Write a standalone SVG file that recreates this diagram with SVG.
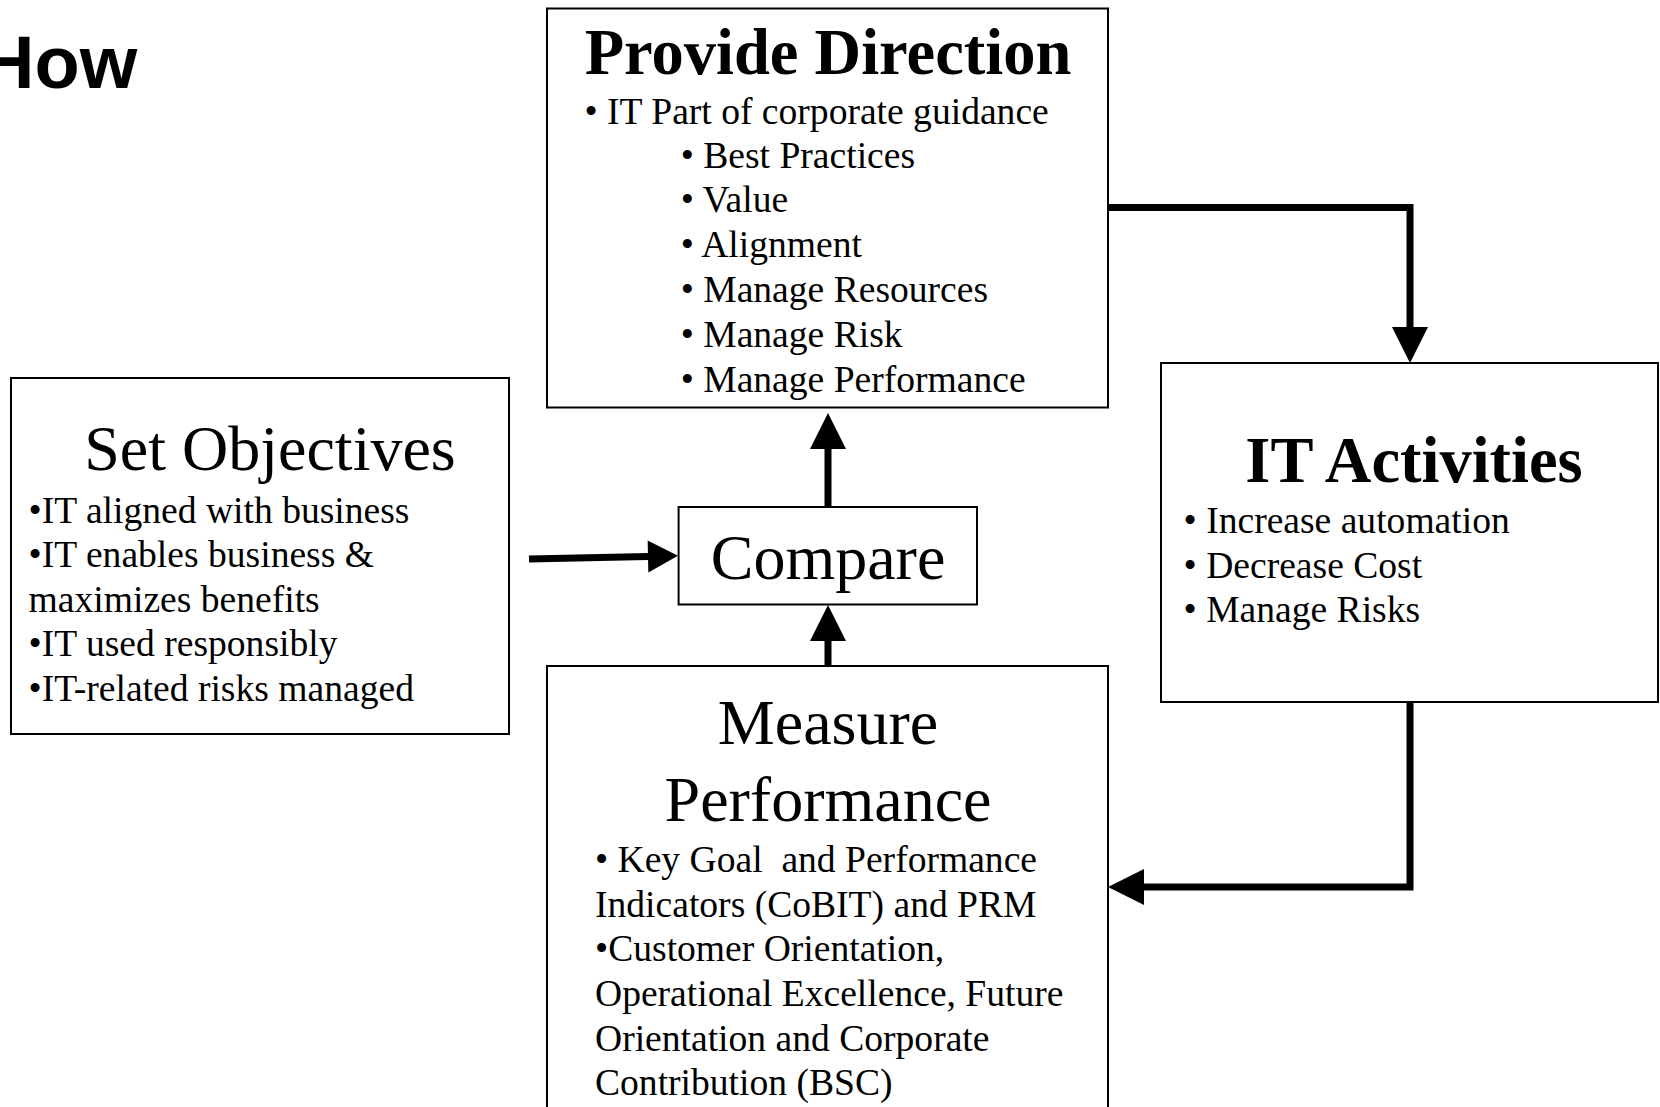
<svg xmlns="http://www.w3.org/2000/svg" width="1660" height="1107" viewBox="0 0 1660 1107">
<style>
.box{fill:#fff;stroke:#000;stroke-width:2}
.t{font-family:"Liberation Serif","Times New Roman",serif;fill:#000}
.h{font-size:64px;text-anchor:middle}
.hb{font-size:64.5px;font-weight:bold;text-anchor:middle}
.b{font-size:37.6px;white-space:pre}
.conn{fill:none;stroke:#000;stroke-width:7;stroke-linejoin:miter}
</style>
<defs>
<marker id="ah" markerUnits="userSpaceOnUse" markerWidth="37" markerHeight="37" refX="0" refY="18" orient="auto" overflow="visible">
<path d="M0,0 L36,18 L0,36 Z" fill="#000"/>
</marker>
<marker id="ahs" markerUnits="userSpaceOnUse" markerWidth="31" markerHeight="33" refX="0" refY="16" orient="auto" overflow="visible">
<path d="M0,0 L30,16 L0,32 Z" fill="#000"/>
</marker>
</defs>
<rect width="1660" height="1107" fill="#fff"/>
<text x="-19" y="88" style="font-family:'Liberation Sans',Arial,sans-serif;font-size:74px;font-weight:bold">How</text>

<g id="connectors">
<path class="conn" d="M1108,207.5 H1410 V327" marker-end="url(#ah)"/>
<path class="conn" d="M1410,702 V887 H1144" marker-end="url(#ah)"/>
<path class="conn" d="M529,559 L648,556.5" marker-end="url(#ahs)"/>
<path class="conn" d="M828,507 V449" marker-end="url(#ah)"/>
<path class="conn" d="M828,668 V641" marker-end="url(#ah)"/>
</g>

<g id="provide-direction">
<rect class="box" x="547" y="8.5" width="561" height="399"/>
<text class="t hb" x="828" y="74">Provide Direction</text>
<text class="t b" x="584.5" y="124">• IT Part of corporate guidance</text>
<text class="t b" x="680.7" y="167.5">• Best Practices</text>
<text class="t b" x="680.7" y="212">• Value</text>
<text class="t b" x="680.7" y="256.5">• Alignment</text>
<text class="t b" x="680.7" y="302">• Manage Resources</text>
<text class="t b" x="680.7" y="346.5">• Manage Risk</text>
<text class="t b" x="680.7" y="392">• Manage Performance</text>
</g>

<g id="set-objectives">
<rect class="box" x="11" y="378" width="498" height="356"/>
<text class="t h" x="270" y="470">Set Objectives</text>
<text class="t b" x="28.6" y="522.5">•IT aligned with business</text>
<text class="t b" x="28.6" y="567">•IT enables business &amp;</text>
<text class="t b" x="28.6" y="611.5">maximizes benefits</text>
<text class="t b" x="28.6" y="656">•IT used responsibly</text>
<text class="t b" x="28.6" y="701">•IT-related risks managed</text>
</g>

<g id="compare">
<rect class="box" x="678.6" y="507" width="298.4" height="97.5"/>
<text class="t h" x="828" y="579">Compare</text>
</g>

<g id="it-activities">
<rect class="box" x="1161" y="363" width="497" height="339"/>
<text class="t hb" x="1414" y="482">IT Activities</text>
<text class="t b" x="1183.6" y="533">• Increase automation</text>
<text class="t b" x="1183.6" y="578">• Decrease Cost</text>
<text class="t b" x="1183.6" y="622">• Manage Risks</text>
</g>

<g id="measure-performance">
<rect class="box" x="547" y="666" width="561" height="460"/>
<text class="t h" x="828" y="744">Measure</text>
<text class="t h" x="828" y="820.5">Performance</text>
<text class="t b" x="595" y="872">• Key Goal  and Performance</text>
<text class="t b" x="595" y="916.5">Indicators (CoBIT) and PRM</text>
<text class="t b" x="595" y="961">•Customer Orientation,</text>
<text class="t b" x="595" y="1006">Operational Excellence, Future</text>
<text class="t b" x="595" y="1050.5">Orientation and Corporate</text>
<text class="t b" x="595" y="1095">Contribution (BSC)</text>
</g>
</svg>
